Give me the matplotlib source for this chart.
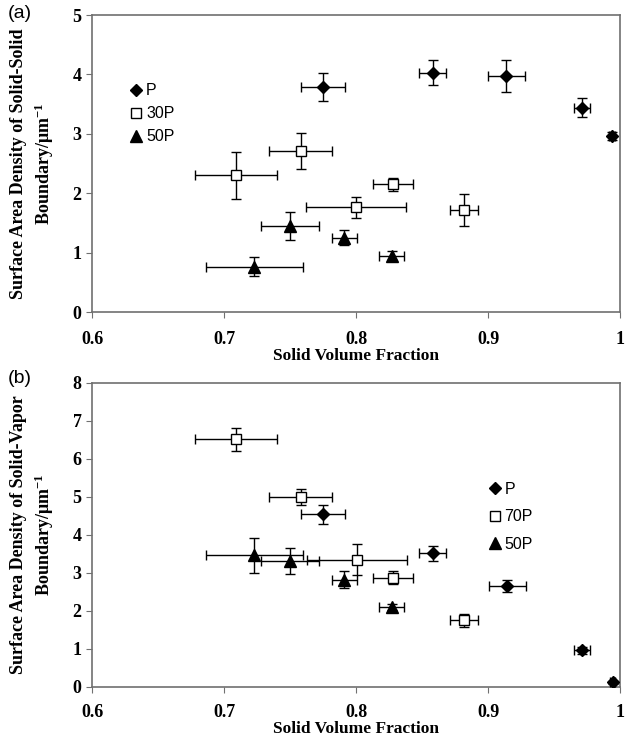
import matplotlib
matplotlib.use('Agg')
import matplotlib.pyplot as plt

plt.rcParams['mathtext.fontset'] = 'custom'
plt.rcParams['mathtext.rm'] = 'Liberation Serif:bold'
plt.rcParams['mathtext.it'] = 'Liberation Serif:bold'
plt.rcParams['mathtext.bf'] = 'Liberation Serif:bold'

# panel (a): solid-solid boundary
a_p_x = [0.775, 0.858, 0.914, 0.971, 0.994]
a_p_y = [3.79, 4.03, 3.97, 3.44, 2.96]
a_p_xe = [0.017, 0.0105, 0.014, 0.006, 0.002]
a_p_ye = [0.23, 0.21, 0.27, 0.16, 0.07]

a_30_x = [0.709, 0.758, 0.828, 0.800, 0.882]
a_30_y = [2.30, 2.71, 2.15, 1.76, 1.72]
a_30_xe = [0.031, 0.024, 0.015, 0.0377, 0.0105]
a_30_ye = [0.39, 0.31, 0.11, 0.18, 0.27]

a_50_x = [0.723, 0.750, 0.791, 0.827]
a_50_y = [0.76, 1.45, 1.25, 0.95]
a_50_xe = [0.037, 0.022, 0.0095, 0.0095]
a_50_ye = [0.16, 0.24, 0.13, 0.07]

# panel (b): solid-vapor boundary
b_p_x = [0.775, 0.858, 0.9146, 0.9715, 0.9945]
b_p_y = [4.55, 3.52, 2.66, 0.96, 0.12]
b_p_xe = [0.017, 0.0105, 0.014, 0.006, 0.002]
b_p_ye = [0.25, 0.2, 0.15, 0.1, 0.05]

b_70_x = [0.709, 0.758, 0.8007, 0.828, 0.882]
b_70_y = [6.52, 4.99, 3.35, 2.87, 1.76]
b_70_xe = [0.031, 0.024, 0.0377, 0.015, 0.0105]
b_70_ye = [0.3, 0.21, 0.4, 0.17, 0.17]

b_50_x = [0.723, 0.750, 0.791, 0.827]
b_50_y = [3.46, 3.32, 2.82, 2.10]
b_50_xe = [0.037, 0.022, 0.0095, 0.0095]
b_50_ye = [0.47, 0.34, 0.22, 0.08]

serif = 'Liberation Serif'
sans = 'Liberation Sans'
spine_col = '#707070'

fig = plt.figure(figsize=(6.28, 7.39), dpi=100)
ax1 = fig.add_axes([0.1465, 0.5778, 0.8408, 0.4019])
ax2 = fig.add_axes([0.1465, 0.0704, 0.8408, 0.4114])


def series(ax, x, y, xe, ye, marker, face, size, label):
    ax.errorbar(x, y, xerr=xe, yerr=ye, fmt=marker, mfc=face, mec='black',
                mew=1.0, ms=size, ecolor='black', elinewidth=1.0,
                capsize=3.5, capthick=1.0, label=label, zorder=3)


def style(ax, ymax, ylabel, pad):
    ax.set_xlim(0.6, 1.0)
    ax.set_ylim(0, ymax)
    ax.set_xticks([0.6, 0.7, 0.8, 0.9, 1.0])
    ax.set_xticklabels(['0.6', '0.7', '0.8', '0.9', '1'])
    ax.set_yticks(range(0, ymax + 1))
    for s in ax.spines.values():
        s.set_color(spine_col)
        s.set_linewidth(1.2)
    ax.tick_params(direction='out', length=4, color=spine_col, top=False, right=False)
    for t in ax.get_xticklabels() + ax.get_yticklabels():
        t.set_fontfamily(serif)
        t.set_fontweight('bold')
        t.set_fontsize(13)
    ax.tick_params(axis='x', pad=pad)
    ax.set_xlabel('Solid Volume Fraction', fontfamily=serif, fontweight='bold',
                  fontsize=12.5, labelpad=0)
    ax.set_ylabel(ylabel, fontfamily=serif, fontweight='bold', fontsize=13,
                  labelpad=12, linespacing=1.3)


series(ax1, a_p_x, a_p_y, a_p_xe, a_p_ye, 'D', 'black', 6.5, 'P')
series(ax1, a_30_x, a_30_y, a_30_xe, a_30_ye, 's', 'white', 7.5, '30P')
series(ax1, a_50_x, a_50_y, a_50_xe, a_50_ye, '^', 'black', 8, '50P')
style(ax1, 5, 'Surface Area Density of Solid-Solid\nBoundary/μm$^{-1}$', 10)

series(ax2, b_p_x, b_p_y, b_p_xe, b_p_ye, 'D', 'black', 6.5, 'P')
series(ax2, b_70_x, b_70_y, b_70_xe, b_70_ye, 's', 'white', 7.5, '70P')
series(ax2, b_50_x, b_50_y, b_50_xe, b_50_ye, '^', 'black', 8, '50P')
style(ax2, 8, 'Surface Area Density of Solid-Vapor\nBoundary/μm$^{-1}$', 8)

for ax, loc, sp in [(ax1, (0.063, 0.543), 0.5), (ax2, (0.742, 0.424), 0.78)]:
    h, l = ax.get_legend_handles_labels()
    h = [hh[0] for hh in h]
    ax.legend(h, l, loc='lower left', bbox_to_anchor=loc, frameon=False,
              handlelength=0.6, handletextpad=0.3, labelspacing=sp,
              prop={'family': sans, 'size': 11.5}, borderaxespad=0)

fig.text(0.012, 0.993, '(a)', fontfamily=sans, fontsize=14, va='top', ha='left')
fig.text(0.012, 0.499, '(b)', fontfamily=sans, fontsize=14, va='top', ha='left')

fig.savefig('out.png', dpi=100)
